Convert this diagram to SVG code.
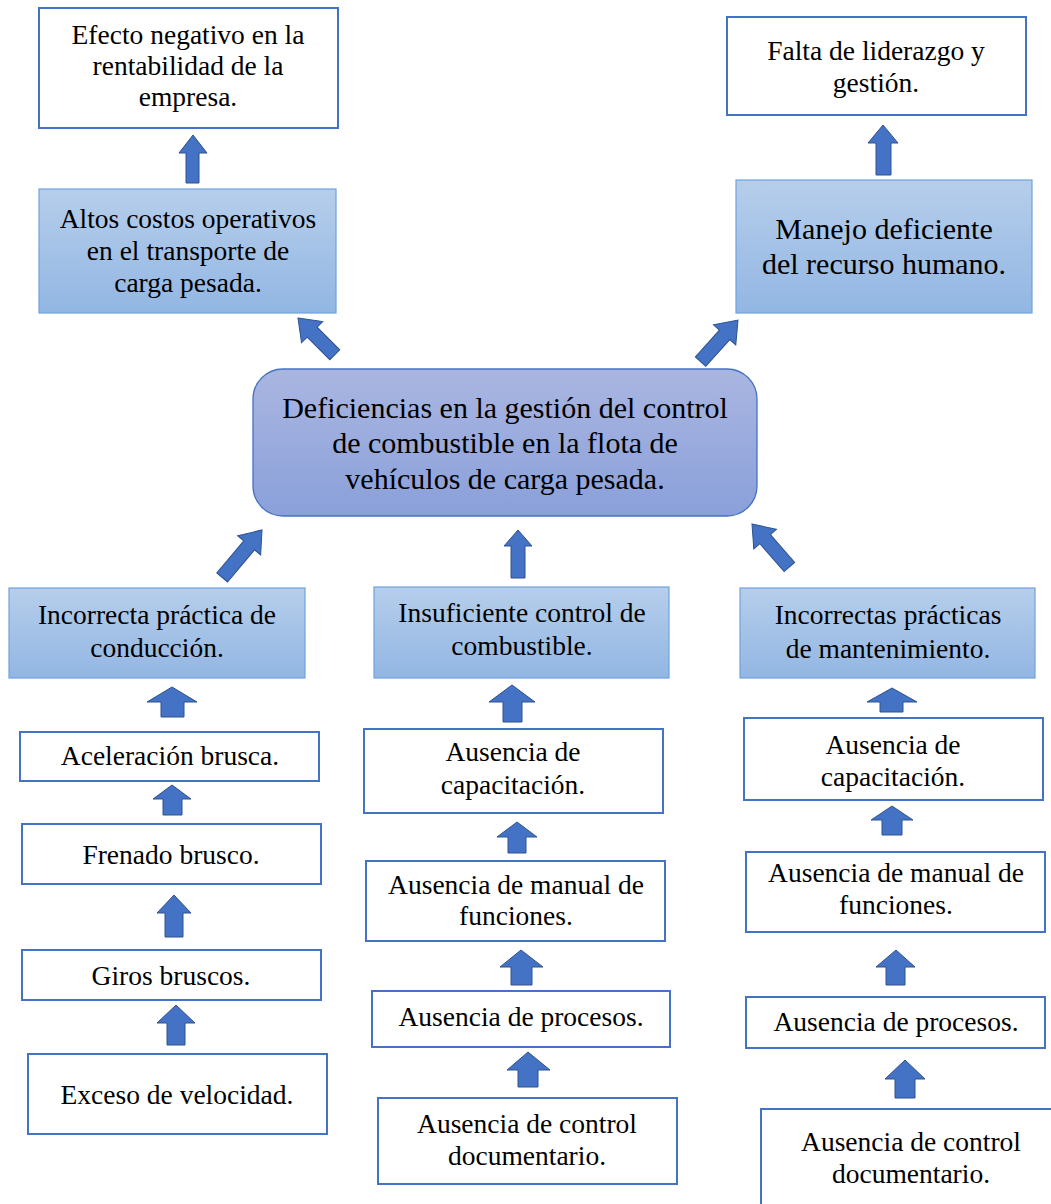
<svg xmlns="http://www.w3.org/2000/svg" width="1051" height="1204" viewBox="0 0 1051 1204">
  <defs>
    <linearGradient id="gLight" x1="0" y1="0" x2="0" y2="1">
      <stop offset="0" stop-color="#B6CEEB"/>
      <stop offset="1" stop-color="#92B6E3"/>
    </linearGradient>
    <linearGradient id="gCore" x1="0" y1="0" x2="0" y2="1">
      <stop offset="0" stop-color="#AAB6E1"/>
      <stop offset="1" stop-color="#8AA0DA"/>
    </linearGradient>
    <style>
      .plain { fill: #FFFFFF; stroke: #4472C4; stroke-width: 2; }
      .shade { fill: url(#gLight); stroke: #6FA2DC; stroke-width: 1.2; }
      .core { fill: url(#gCore); stroke: #4472C4; stroke-width: 1.3; }
      text { font-family: "Liberation Serif", "Times New Roman", serif; font-size: 27.5px; fill: #000000; text-anchor: middle; }
      .big { font-size: 30px; }
      .arrow { fill: #4472C4; stroke: #2F528F; stroke-width: 1; stroke-linejoin: miter; }
    </style>
  </defs>
  <rect width="1051" height="1204" fill="#FFFFFF"/>

  <!-- block arrows between the boxes -->
  <g id="connectors">
    <!-- upper effects -->
    <path class="arrow" d="M193,135 L207,153 L199,153 L199,183 L186,183 L186,153 L179,153 Z"/>
    <path class="arrow" d="M883,125 L898,143 L891,143 L891,175 L876,175 L876,143 L868,143 Z"/>
    <path class="arrow" transform="translate(298,318) rotate(-45)" d="M0,0 L15,20 L7,20 L7,52 L-7,52 L-7,20 L-15,20 Z"/>
    <path class="arrow" transform="translate(738,320) rotate(42)" d="M0,0 L15,20 L7,20 L7,56 L-7,56 L-7,20 L-15,20 Z"/>
    <!-- causes into the central problem -->
    <path class="arrow" transform="translate(262,530) rotate(40)" d="M0,0 L15,20 L7,20 L7,62 L-7,62 L-7,20 L-15,20 Z"/>
    <path class="arrow" d="M518,530 L532,546 L525,546 L525,578 L511,578 L511,546 L504,546 Z"/>
    <path class="arrow" transform="translate(752,524) rotate(-41)" d="M0,0 L15,20 L7,20 L7,57 L-7,57 L-7,20 L-15,20 Z"/>
    <!-- left column -->
    <path class="arrow" d="M172,687 L197,702 L184,702 L184,717 L161,717 L161,702 L147,702 Z"/>
    <path class="arrow" d="M172,785 L191,799 L182,799 L182,815 L163,815 L163,799 L153,799 Z"/>
    <path class="arrow" d="M174,895 L191,913 L183,913 L183,937 L165,937 L165,913 L157,913 Z"/>
    <path class="arrow" d="M176,1005 L195,1023 L185,1023 L185,1045 L167,1045 L167,1023 L157,1023 Z"/>
    <!-- middle column -->
    <path class="arrow" d="M512,685 L535,702 L522,702 L522,722 L503,722 L503,702 L489,702 Z"/>
    <path class="arrow" d="M517,822 L537,837 L526,837 L526,853 L508,853 L508,837 L497,837 Z"/>
    <path class="arrow" d="M521,950 L543,967 L532,967 L532,985 L511,985 L511,967 L500,967 Z"/>
    <path class="arrow" d="M528,1052 L550,1070 L538,1070 L538,1087 L518,1087 L518,1070 L507,1070 Z"/>
    <!-- right column -->
    <path class="arrow" d="M892,688 L917,702 L903,702 L903,712 L880,712 L880,702 L867,702 Z"/>
    <path class="arrow" d="M892,806 L913,820 L902,820 L902,835 L882,835 L882,820 L871,820 Z"/>
    <path class="arrow" d="M896,950 L915,967 L905,967 L905,985 L886,985 L886,967 L876,967 Z"/>
    <path class="arrow" d="M905,1060 L925,1079 L915,1079 L915,1098 L895,1098 L895,1079 L885,1079 Z"/>
  </g>

  <!-- effects -->
  <g id="efecto-rentabilidad">
    <rect class="plain" x="39" y="8" width="299" height="120"/>
    <text x="188" y="44">Efecto negativo en la</text>
    <text x="188" y="75">rentabilidad de la</text>
    <text x="188" y="106">empresa.</text>
  </g>
  <g id="altos-costos">
    <rect class="shade" x="39" y="189" width="297" height="124"/>
    <text x="188" y="228">Altos costos operativos</text>
    <text x="188" y="260">en el transporte de</text>
    <text x="188" y="292">carga pesada.</text>
  </g>
  <g id="falta-liderazgo">
    <rect class="plain" x="727" y="17" width="299" height="98"/>
    <text x="876" y="60">Falta de liderazgo y</text>
    <text x="876" y="92">gestión.</text>
  </g>
  <g id="manejo-deficiente">
    <rect class="shade" x="736" y="180" width="296" height="133"/>
    <text class="big" x="884" y="239">Manejo deficiente</text>
    <text class="big" x="884" y="274">del recurso humano.</text>
  </g>

  <!-- central problem -->
  <g id="problema-central">
    <rect class="core" x="253" y="369" width="504" height="147" rx="30" ry="30"/>
    <text class="big" x="505" y="418">Deficiencias en la gestión del control</text>
    <text class="big" x="505" y="453">de combustible en la flota de</text>
    <text class="big" x="505" y="489">vehículos de carga pesada.</text>
  </g>

  <!-- main causes -->
  <g id="practica-conduccion">
    <rect class="shade" x="9" y="588" width="296" height="90"/>
    <text x="157" y="624">Incorrecta práctica de</text>
    <text x="157" y="657">conducción.</text>
  </g>
  <g id="control-combustible">
    <rect class="shade" x="374" y="587" width="295" height="91"/>
    <text x="522" y="622">Insuficiente control de</text>
    <text x="522" y="655">combustible.</text>
  </g>
  <g id="practicas-mantenimiento">
    <rect class="shade" x="740" y="588" width="295" height="90"/>
    <text x="888" y="624">Incorrectas prácticas</text>
    <text x="888" y="658">de mantenimiento.</text>
  </g>

  <!-- driving sub-causes -->
  <g id="aceleracion">
    <rect class="plain" x="20" y="732" width="299" height="49"/>
    <text x="170" y="765">Aceleración brusca.</text>
  </g>
  <g id="frenado">
    <rect class="plain" x="22" y="824" width="299" height="60"/>
    <text x="171" y="864">Frenado brusco.</text>
  </g>
  <g id="giros">
    <rect class="plain" x="22" y="950" width="299" height="50"/>
    <text x="171" y="985">Giros bruscos.</text>
  </g>
  <g id="exceso-velocidad">
    <rect class="plain" x="28" y="1054" width="299" height="80"/>
    <text x="177" y="1104">Exceso de velocidad.</text>
  </g>

  <!-- fuel control sub-causes -->
  <g id="capacitacion-1">
    <rect class="plain" x="364" y="729" width="299" height="84"/>
    <text x="513" y="761">Ausencia de</text>
    <text x="513" y="794">capacitación.</text>
  </g>
  <g id="manual-1">
    <rect class="plain" x="366" y="861" width="299" height="80"/>
    <text x="516" y="894">Ausencia de manual de</text>
    <text x="516" y="925">funciones.</text>
  </g>
  <g id="procesos-1">
    <rect class="plain" x="372" y="991" width="298" height="56"/>
    <text x="521" y="1026">Ausencia de procesos.</text>
  </g>
  <g id="documentario-1">
    <rect class="plain" x="378" y="1098" width="299" height="86"/>
    <text x="527" y="1133">Ausencia de control</text>
    <text x="527" y="1165">documentario.</text>
  </g>

  <!-- maintenance sub-causes -->
  <g id="capacitacion-2">
    <rect class="plain" x="744" y="718" width="299" height="82"/>
    <text x="893" y="754">Ausencia de</text>
    <text x="893" y="786">capacitación.</text>
  </g>
  <g id="manual-2">
    <rect class="plain" x="746" y="852" width="299" height="80"/>
    <text x="896" y="882">Ausencia de manual de</text>
    <text x="896" y="914">funciones.</text>
  </g>
  <g id="procesos-2">
    <rect class="plain" x="746" y="997" width="299" height="51"/>
    <text x="896" y="1031">Ausencia de procesos.</text>
  </g>
  <g id="documentario-2">
    <rect class="plain" x="761" y="1109" width="310" height="110"/>
    <text x="911" y="1151">Ausencia de control</text>
    <text x="911" y="1183">documentario.</text>
  </g>
</svg>
